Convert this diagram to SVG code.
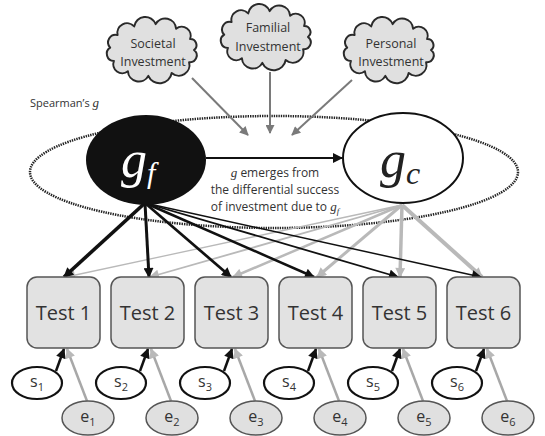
<svg xmlns="http://www.w3.org/2000/svg" width="545" height="436" viewBox="0 0 545 436">
  <style>
    .lbl { font-family: "Open Sans", "Liberation Sans", sans-serif; fill: #333; }
    .cloud-txt { font-size: 12.5px; text-anchor: middle; }
    .test { fill: #e2e2e2; stroke: #555; stroke-width: 1.5; }
    .test-txt { font-size: 20px; text-anchor: middle; }
    .s-node { fill: #fff; stroke: #111; stroke-width: 2.2; }
    .e-node { fill: #e0e0e0; stroke: #555; stroke-width: 1.5; }
    .var-txt { font-size: 16px; text-anchor: middle; }
    .math { font-family: "Liberation Serif", "DejaVu Serif", serif; font-style: italic; }
    .black-load { stroke: #111; fill: none; marker-end: url(#ah-black); }
    .gray-load { stroke: #b9b9b9; fill: none; marker-end: url(#ah-lgray); }
    .invest { stroke: #7a7a7a; stroke-width: 2; fill: none; marker-end: url(#ah-gray); }
  </style>
  <defs>
    <marker id="ah-black" viewBox="0 0 10 10" refX="9" refY="5" markerWidth="12" markerHeight="10" markerUnits="userSpaceOnUse" orient="auto">
      <path d="M0,0 L10,5 L0,10 z" fill="#111"/>
    </marker>
    <marker id="ah-lgray" viewBox="0 0 10 10" refX="9" refY="5" markerWidth="12" markerHeight="10" markerUnits="userSpaceOnUse" orient="auto">
      <path d="M0,0 L10,5 L0,10 z" fill="#b9b9b9"/>
    </marker>
    <marker id="ah-gray" viewBox="0 0 10 10" refX="9" refY="5" markerWidth="11" markerHeight="9" markerUnits="userSpaceOnUse" orient="auto">
      <path d="M0,0 L10,5 L0,10 z" fill="#7a7a7a"/>
    </marker>
    <!-- cloud outline centred on the origin: twelve lobes round an ellipse -->
    <path id="cloud" fill="#e0e0e0" stroke="#2a2a2a" stroke-width="2" stroke-linejoin="round"
      d="M42,0 A6.8 6.8 0 0 1 37.1,12.2 A10.7 10.7 0 0 1 19.7,23 A12.3 12.3 0 0 1 -3.7,25.9 A10.9 10.9 0 0 1 -24.1,21.3 A9 9 0 0 1 -38.1,11 A7.2 7.2 0 0 1 -41.8,-2.3 A7.6 7.6 0 0 1 -34.4,-14.9 A9.7 9.7 0 0 1 -17.8,-23.6 A11.2 11.2 0 0 1 3.7,-25.9 A10.9 10.9 0 0 1 24.1,-21.3 A9 9 0 0 1 38.1,-11 A6.1 6.1 0 0 1 42,0 Z"/>
  </defs>

  <rect width="545" height="436" fill="#fff"/>

  <!-- Spearman's g envelope -->
  <g id="spearman">
    <ellipse cx="274" cy="172" rx="244" ry="56" fill="none" stroke="#222" stroke-width="2.5" stroke-dasharray="1.4 1"/>
    <text x="30" y="107" class="lbl" font-size="11">Spearman’s <tspan class="math" font-size="13">g</tspan></text>
  </g>

  <!-- investment sources -->
  <g id="societal">
    <use href="#cloud" transform="translate(152,50)"/>
    <text x="153" y="48" class="lbl cloud-txt">Societal</text>
    <text x="153" y="66" class="lbl cloud-txt">Investment</text>
  </g>
  <g id="familial">
    <use href="#cloud" transform="translate(266,37)"/>
    <text x="268" y="32" class="lbl cloud-txt">Familial</text>
    <text x="268" y="51" class="lbl cloud-txt">Investment</text>
  </g>
  <g id="personal">
    <use href="#cloud" transform="translate(389,50)"/>
    <text x="391" y="48" class="lbl cloud-txt">Personal</text>
    <text x="391" y="66" class="lbl cloud-txt">Investment</text>
  </g>

  <!-- connectors -->
  <g id="connectors">
    <line class="invest" x1="192" y1="78" x2="248" y2="135"/>
    <line class="invest" x1="270" y1="72" x2="270" y2="133"/>
    <line class="invest" x1="352" y1="80" x2="292" y2="135"/>

    <line x1="206" y1="158" x2="342" y2="158" stroke="#111" stroke-width="2" marker-end="url(#ah-black)"/>

    <!-- g_c loadings -->
    <line class="gray-load" x1="402" y1="205" x2="66" y2="277" stroke-width="1.3"/>
    <line class="gray-load" x1="402" y1="205" x2="150" y2="277" stroke-width="1.8"/>
    <line class="gray-load" x1="402" y1="205" x2="233" y2="277" stroke-width="2.5"/>
    <line class="gray-load" x1="402" y1="205" x2="317" y2="277" stroke-width="3"/>
    <line class="gray-load" x1="402" y1="205" x2="400" y2="277" stroke-width="3.5"/>
    <line class="gray-load" x1="402" y1="205" x2="482" y2="277" stroke-width="4"/>

    <!-- g_f loadings -->
    <line class="black-load" x1="145" y1="203" x2="64" y2="277" stroke-width="3.6"/>
    <line class="black-load" x1="145" y1="203" x2="149" y2="277" stroke-width="3"/>
    <line class="black-load" x1="145" y1="203" x2="231" y2="277" stroke-width="2.7"/>
    <line class="black-load" x1="145" y1="203" x2="314" y2="277" stroke-width="2.5"/>
    <line class="black-load" x1="145" y1="203" x2="398" y2="277" stroke-width="1.8"/>
    <line class="black-load" x1="145" y1="203" x2="481" y2="277" stroke-width="1.5"/>

    <!-- specific and error terms -->
    <g stroke-width="2.5" fill="none">
      <line x1="56" y1="371" x2="64" y2="349" stroke="#111" marker-end="url(#ah-black)"/>
      <line x1="140" y1="371" x2="148" y2="349" stroke="#111" marker-end="url(#ah-black)"/>
      <line x1="224" y1="371" x2="232" y2="349" stroke="#111" marker-end="url(#ah-black)"/>
      <line x1="308" y1="371" x2="316" y2="349" stroke="#111" marker-end="url(#ah-black)"/>
      <line x1="392" y1="371" x2="400" y2="349" stroke="#111" marker-end="url(#ah-black)"/>
      <line x1="476" y1="371" x2="484" y2="349" stroke="#111" marker-end="url(#ah-black)"/>

      <line x1="87" y1="401" x2="67" y2="349" stroke="#a8a8a8" marker-end="url(#ah-lgray)"/>
      <line x1="171" y1="401" x2="151" y2="349" stroke="#a8a8a8" marker-end="url(#ah-lgray)"/>
      <line x1="255" y1="401" x2="235" y2="349" stroke="#a8a8a8" marker-end="url(#ah-lgray)"/>
      <line x1="339" y1="401" x2="319" y2="349" stroke="#a8a8a8" marker-end="url(#ah-lgray)"/>
      <line x1="423" y1="401" x2="403" y2="349" stroke="#a8a8a8" marker-end="url(#ah-lgray)"/>
      <line x1="507" y1="401" x2="487" y2="349" stroke="#a8a8a8" marker-end="url(#ah-lgray)"/>
    </g>
  </g>

  <!-- latent factors -->
  <g id="gf">
    <ellipse cx="146" cy="160" rx="60" ry="45" fill="#111"/>
    <text x="121" y="177" class="math" font-size="52" fill="#fff">g<tspan font-size="30" dy="6">f</tspan></text>
  </g>
  <g id="gc">
    <ellipse cx="403" cy="158" rx="60" ry="45" fill="#fff" stroke="#111" stroke-width="2"/>
    <text x="380" y="177" class="math" font-size="52" fill="#222">g<tspan font-size="32" dy="7">c</tspan></text>
  </g>

  <g id="investment-note">
    <text x="275" y="177" class="lbl" font-size="12" text-anchor="middle"><tspan class="math" font-size="13">g</tspan> emerges from</text>
    <text x="275" y="194" class="lbl" font-size="12" text-anchor="middle">the differential success</text>
    <text x="275" y="211" class="lbl" font-size="12" text-anchor="middle">of investment due to <tspan class="math" font-size="13">g</tspan><tspan class="math" font-size="9" dy="3">f</tspan></text>
  </g>

  <!-- observed tests -->
  <g id="test1"><rect class="test" x="27" y="277" width="73" height="71" rx="10"/><text x="63.5" y="320" class="lbl test-txt">Test 1</text></g>
  <g id="test2"><rect class="test" x="111" y="277" width="73" height="71" rx="10"/><text x="147.5" y="320" class="lbl test-txt">Test 2</text></g>
  <g id="test3"><rect class="test" x="195" y="277" width="73" height="71" rx="10"/><text x="231.5" y="320" class="lbl test-txt">Test 3</text></g>
  <g id="test4"><rect class="test" x="279" y="277" width="73" height="71" rx="10"/><text x="315.5" y="320" class="lbl test-txt">Test 4</text></g>
  <g id="test5"><rect class="test" x="363" y="277" width="73" height="71" rx="10"/><text x="399.5" y="320" class="lbl test-txt">Test 5</text></g>
  <g id="test6"><rect class="test" x="447" y="277" width="73" height="71" rx="10"/><text x="483.5" y="320" class="lbl test-txt">Test 6</text></g>

  <!-- specific factors -->
  <g id="s1"><ellipse class="s-node" cx="37" cy="383" rx="25" ry="16"/><text x="37" y="387" class="lbl var-txt">s<tspan font-size="11" dy="4">1</tspan></text></g>
  <g id="s2"><ellipse class="s-node" cx="121" cy="383" rx="25" ry="16"/><text x="121" y="387" class="lbl var-txt">s<tspan font-size="11" dy="4">2</tspan></text></g>
  <g id="s3"><ellipse class="s-node" cx="205" cy="383" rx="25" ry="16"/><text x="205" y="387" class="lbl var-txt">s<tspan font-size="11" dy="4">3</tspan></text></g>
  <g id="s4"><ellipse class="s-node" cx="289" cy="383" rx="25" ry="16"/><text x="289" y="387" class="lbl var-txt">s<tspan font-size="11" dy="4">4</tspan></text></g>
  <g id="s5"><ellipse class="s-node" cx="373" cy="383" rx="25" ry="16"/><text x="373" y="387" class="lbl var-txt">s<tspan font-size="11" dy="4">5</tspan></text></g>
  <g id="s6"><ellipse class="s-node" cx="457" cy="383" rx="25" ry="16"/><text x="457" y="387" class="lbl var-txt">s<tspan font-size="11" dy="4">6</tspan></text></g>

  <!-- error terms -->
  <g id="e1"><ellipse class="e-node" cx="88" cy="418" rx="26" ry="17"/><text x="88" y="422" class="lbl var-txt">e<tspan font-size="11" dy="4">1</tspan></text></g>
  <g id="e2"><ellipse class="e-node" cx="172" cy="418" rx="26" ry="17"/><text x="172" y="422" class="lbl var-txt">e<tspan font-size="11" dy="4">2</tspan></text></g>
  <g id="e3"><ellipse class="e-node" cx="256" cy="418" rx="26" ry="17"/><text x="256" y="422" class="lbl var-txt">e<tspan font-size="11" dy="4">3</tspan></text></g>
  <g id="e4"><ellipse class="e-node" cx="340" cy="418" rx="26" ry="17"/><text x="340" y="422" class="lbl var-txt">e<tspan font-size="11" dy="4">4</tspan></text></g>
  <g id="e5"><ellipse class="e-node" cx="424" cy="418" rx="26" ry="17"/><text x="424" y="422" class="lbl var-txt">e<tspan font-size="11" dy="4">5</tspan></text></g>
  <g id="e6"><ellipse class="e-node" cx="508" cy="418" rx="26" ry="17"/><text x="508" y="422" class="lbl var-txt">e<tspan font-size="11" dy="4">6</tspan></text></g>
</svg>
